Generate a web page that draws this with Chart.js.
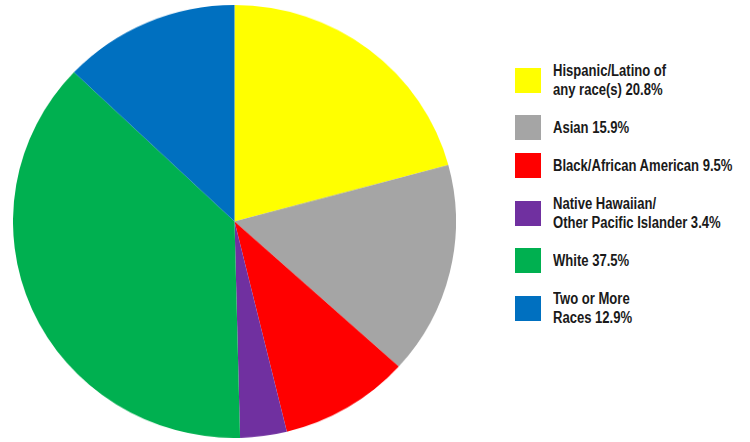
<!DOCTYPE html>
<html>
<head>
<meta charset="utf-8">
<script src="https://cdn.jsdelivr.net/npm/chart.js@4"></script>
<style>
  body { margin: 0; background: #fff; width: 750px; height: 442px; position: relative; overflow: hidden; }
  /* a pizza do original é levemente achatada na vertical */
  #pieBox { position: absolute; left: 13px; top: 5px; width: 443px; height: 443px; transform: scaleY(0.977); transform-origin: top left; }
  #legenda { position: absolute; left: 515px; top: 61px; font-family: "Liberation Sans", Arial, sans-serif; font-size: 16px; font-weight: bold; color: #1a1a1a; }
  .item { display: flex; align-items: center; margin-bottom: 19px; }
  .caixa { width: 26px; height: 25px; flex: none; margin: -3px 12px -3px 0; }
  .texto { line-height: 19px; white-space: nowrap; transform: scaleX(0.816); transform-origin: left center; }
</style>
</head>
<body>
<div id="pieBox"><canvas id="pizza" width="443" height="443"></canvas></div>
<div id="legenda"></div>
<script>
// Dados do gráfico (percentuais por raça/etnia)
const categorias = ['Hispanic/Latino of any race(s)', 'Asian', 'Black/African American', 'Native Hawaiian/ Other Pacific Islander', 'White', 'Two or More Races'];
const rotulosLegenda = [
    ['Hispanic/Latino of', 'any race(s) 20.8%'],
    ['Asian 15.9%'],
    ['Black/African American 9.5%'],
    ['Native Hawaiian/', 'Other Pacific Islander 3.4%'],
    ['White 37.5%'],
    ['Two or More', 'Races 12.9%']
];
const valores = [20.8, 15.9, 9.5, 3.4, 37.5, 12.9];
const cores = ['#FFFF00', '#A5A5A5', '#FF0000', '#7030A0', '#00B050', '#0070C0'];

// Gráfico de pizza
const ctx = document.getElementById('pizza').getContext('2d');
new Chart(ctx, {
    type: 'pie',
    data: {
        labels: categorias,
        datasets: [{
            data: valores,
            backgroundColor: cores,
            borderWidth: 0
        }]
    },
    options: {
        responsive: false,
        animation: false,
        layout: { padding: 0 },
        plugins: {
            legend: { display: false },
            tooltip: { enabled: false }
        }
    }
});

// Legenda em HTML (os rótulos quebram em duas linhas)
const legenda = document.getElementById('legenda');
rotulosLegenda.forEach((linhas, i) => {
    const item = document.createElement('div');
    item.className = 'item';
    const caixa = document.createElement('div');
    caixa.className = 'caixa';
    caixa.style.background = cores[i];
    const texto = document.createElement('div');
    texto.className = 'texto';
    texto.innerHTML = linhas.join('<br>');
    item.appendChild(caixa);
    item.appendChild(texto);
    legenda.appendChild(item);
});
</script>
</body>
</html>
